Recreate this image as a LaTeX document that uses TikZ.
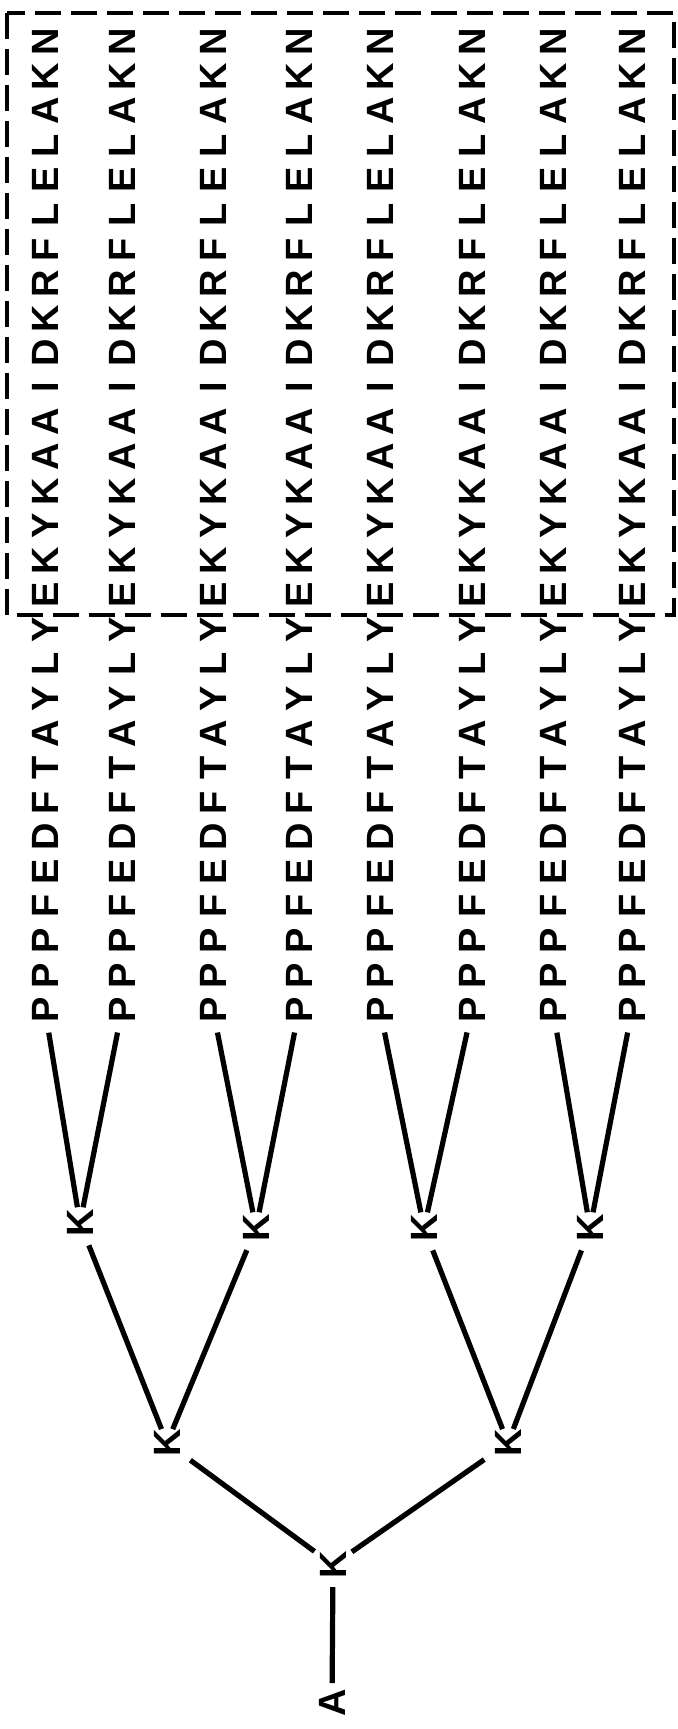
\documentclass[tikz,border=0pt]{standalone}
\usepackage{fontspec}
\setmainfont{Liberation Sans}
\begin{document}
\begin{tikzpicture}[x=0.5pt,y=-0.5pt,
  aa/.style={rotate=90,inner sep=0pt,font=\bfseries\fontsize{19}{20}\selectfont},
  link/.style={line width=2.6pt},
  groupbox/.style={line width=2pt,dash pattern=on 13pt off 5pt}]
\useasboundingbox (0,0) rectangle (677,1729);
\def\seq{N,K,A,L,E,L,F,R,K,D,I,A,A,K,Y,K,E,Y,L,Y,A,T,F,D,E,F,P,P,P}
\foreach \cx [count=\c] in {45,122,213,299,380,472,553,632}{
  \foreach \l [count=\i from 0] in \seq {
    \node[aa] (c\c-\i) at (\cx, 42+34.57*\i) {\l};
  }
}
\draw[groupbox] (7,13) rectangle (674,615);
% tree nodes
\node[aa] (k1) at (80,1223) {K};
\node[aa] (k2) at (256,1228) {K};
\node[aa] (k3) at (424,1228) {K};
\node[aa] (k4) at (590,1228) {K};
\node[aa] (m1) at (167,1443) {K};
\node[aa] (m2) at (508,1443) {K};
\node[aa] (r) at (333,1565) {K};
\node[aa] (a) at (332,1703) {A};
% connectors
\foreach \p/\k in {1/k1,2/k1,3/k2,4/k2,5/k3,6/k3,7/k4,8/k4}{
  \draw[link,shorten <=11.5pt,shorten >=8pt] (c\p-28.center) -- (\k.center);
}
\foreach \u/\v in {k1/m1,k2/m1,k3/m2,k4/m2}{
  \draw[link,shorten <=12pt,shorten >=7.5pt] (\u.center) -- (\v.center);
}
\foreach \u in {m1,m2}{
  \draw[link,shorten <=14.5pt,shorten >=11.5pt] (\u.center) -- (r.center);
}
\draw[link,shorten <=11pt,shorten >=10pt] (r.center) -- (a.center);
\end{tikzpicture}
\end{document}
